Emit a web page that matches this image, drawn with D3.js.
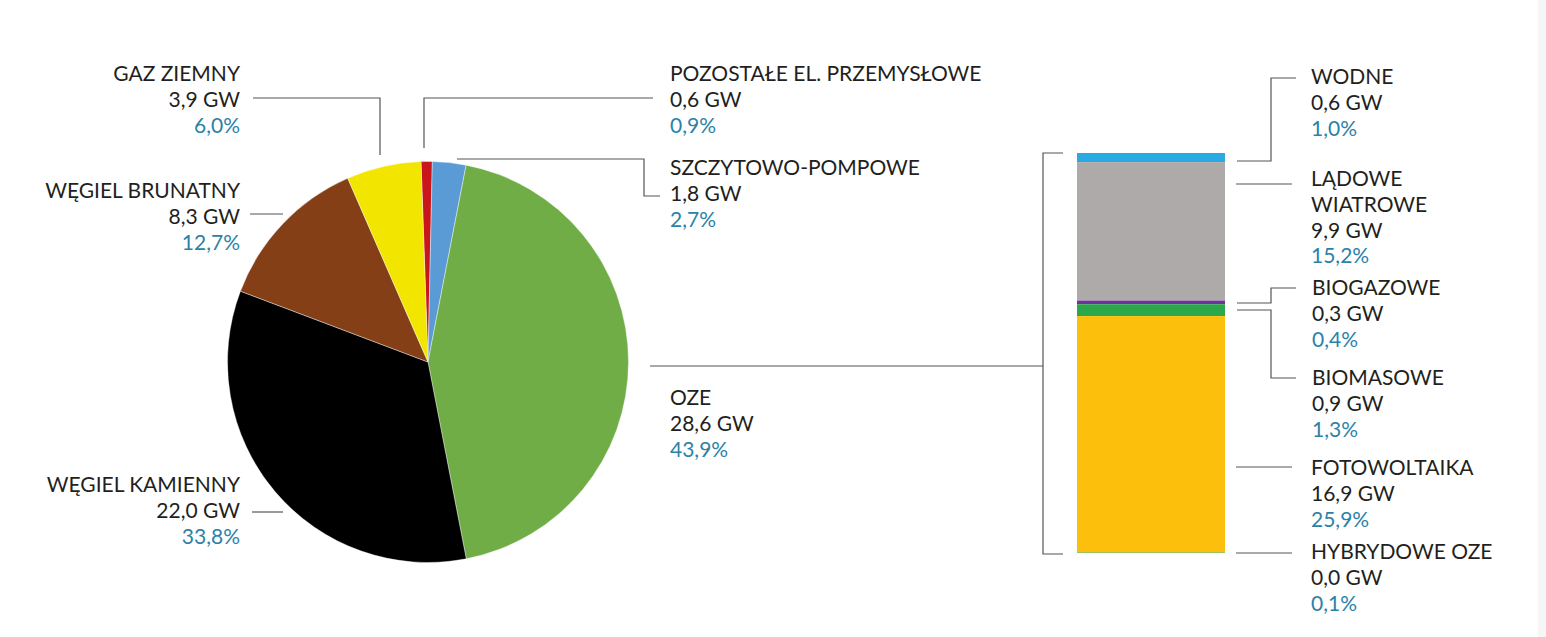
<!DOCTYPE html>
<html><head><meta charset="utf-8">
<script src="https://cdn.jsdelivr.net/npm/d3@7/dist/d3.min.js"></script>
<style>
html,body{margin:0;padding:0;background:#fff;}
svg{display:block;font-family:Lato,"Open Sans",sans-serif;}
</style></head>
<body><svg id="c" width="1546" height="637"></svg>
<script>
// ---- data ----
const pieNames = ["POZOSTAŁE EL. PRZEMYSŁOWE","SZCZYTOWO-POMPOWE","OZE","WĘGIEL KAMIENNY","WĘGIEL BRUNATNY","GAZ ZIEMNY"];
const pieGW    = [0.6, 1.8, 28.6, 22.0, 8.3, 3.9];
const piePct   = [0.9, 2.7, 43.9, 33.8, 12.7, 6.0];
const pieColors= ["#c8161c","#5b9bd5","#70ad47","#000000","#843f16","#f2e500"];

const barNames = ["WODNE","LĄDOWE WIATROWE","BIOGAZOWE","BIOMASOWE","FOTOWOLTAIKA","HYBRYDOWE OZE"];
const barGW    = [0.6, 9.9, 0.3, 0.9, 16.9, 0.0];
const barPct   = [1.0, 15.2, 0.4, 1.3, 25.9, 0.1];
const barColors= ["#29abe2","#aeaaaa","#7030a0","#2aa84a","#fbbf0c","#9bbb59"];

const fmt = v => v.toFixed(1).replace(".", ",");

const svg = d3.select("#c");
svg.append("rect").attr("x",1538).attr("y",0).attr("width",8).attr("height",637).attr("fill","#f6f6f6");

// ---- pie ----
const cx = 428, cy = 362, R = 200.5;
const a0 = -2 * Math.PI / 180;
const pie = d3.pie().sort(null).value(d => d.pct).startAngle(a0).endAngle(a0 + 2 * Math.PI);
const pieData = pieNames.map((n, i) => ({name: n, gw: pieGW[i], pct: piePct[i], color: pieColors[i]}));
const arc = d3.arc().innerRadius(0).outerRadius(R);
svg.append("g").attr("transform", `translate(${cx},${cy})`)
  .selectAll("path").data(pie(pieData)).join("path")
  .attr("d", arc).attr("fill", d => d.data.color)
  .attr("stroke", "#fff").attr("stroke-width", 0.4);

// ---- stacked bar ----
const barTotal = d3.sum(barPct);
const y = d3.scaleLinear().domain([0, barTotal]).range([153, 553]);
const x = d3.scaleBand().domain(["OZE"]).range([1077, 1225]).padding(0);
let acc = 0;
const segs = barNames.map((n, i) => { const s = {name: n, y0: acc, y1: acc + barPct[i], color: barColors[i]}; acc += barPct[i]; return s; });
svg.append("g").selectAll("rect").data(segs).join("rect")
  .attr("x", x("OZE")).attr("width", x.bandwidth())
  .attr("y", d => y(d.y0)).attr("height", d => Math.max(y(d.y1) - y(d.y0), 1))
  .attr("fill", d => d.color);

// ---- leader lines ----
const leaders = [
  [[253,98],[380,98],[380,155]],
  [[250,214],[283,214]],
  [[252,512],[283,512]],
  [[424,148],[424,98],[653,98]],
  [[457,159],[644,159],[644,196],[660,196]],
  [[650,366],[1043,366]],
  [[1063,153],[1043,153],[1043,554],[1063,554]],
  [[1237,161],[1271,161],[1271,78],[1296,78]],
  [[1236,184],[1292,184]],
  [[1237,303],[1271,303],[1271,288],[1296,288]],
  [[1237,310],[1271,310],[1271,378],[1296,378]],
  [[1236,467],[1292,467]],
  [[1236,553],[1292,553]]
];
svg.append("g").selectAll("path").data(leaders).join("path")
  .attr("d", d3.line()).attr("fill","none").attr("stroke","#555").attr("stroke-width",1.2);

// ---- labels ----
const LH = 25.8;
function label(lines, gw, pct, px, py, anchor) {
  const g = svg.append("g").attr("font-size", "21px").attr("text-anchor", anchor);
  const all = lines.concat([fmt(gw) + " GW"]);
  all.forEach((t, i) => g.append("text").attr("x", px).attr("y", py + i * LH).attr("fill", "#231f20").text(t));
  g.append("text").attr("x", px).attr("y", py + all.length * LH).attr("fill", "#2b82a8").text(fmt(pct) + "%");
}
const pieLabelPos = [[670,81,"start"],[670,175,"start"],[670,405,"start"],[240,492,"end"],[240,198,"end"],[240,81,"end"]];
pieData.forEach((d, i) => label([d.name], d.gw, d.pct, pieLabelPos[i][0], pieLabelPos[i][1], pieLabelPos[i][2]));

const barLabelPos = [[1311,84],[1311,186],[1312,295],[1312,385],[1311,475],[1311,559]];
const barLines = [["WODNE"],["LĄDOWE","WIATROWE"],["BIOGAZOWE"],["BIOMASOWE"],["FOTOWOLTAIKA"],["HYBRYDOWE OZE"]];
barNames.forEach((n, i) => label(barLines[i], barGW[i], barPct[i], barLabelPos[i][0], barLabelPos[i][1], "start"));
</script></body></html>
